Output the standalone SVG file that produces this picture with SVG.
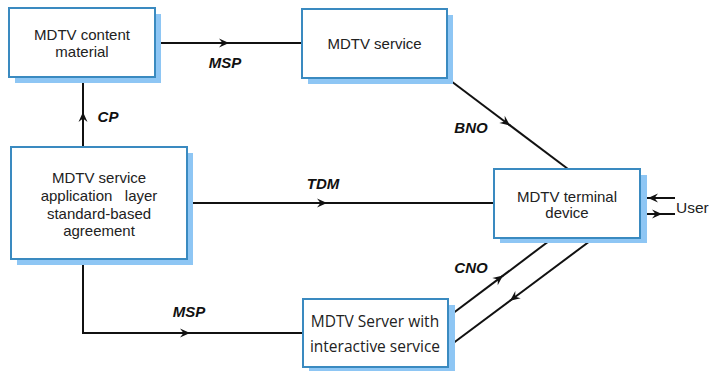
<svg xmlns="http://www.w3.org/2000/svg" width="712" height="371" viewBox="0 0 712 371">
<defs>
<style>
.sh{fill:#8ec6f4;stroke:none}
.bx{fill:#ffffff;stroke:#3a8ac0;stroke-width:2}
.t{font-family:"Liberation Sans",Arial,sans-serif;font-size:15px;fill:#222;text-anchor:middle}
.t5{font-family:"Open Sans","Noto Sans",sans-serif;font-size:15.5px;fill:#222;text-anchor:middle}
.lb{font-family:"Liberation Sans",Arial,sans-serif;font-size:15px;font-weight:bold;font-style:italic;fill:#111;text-anchor:middle}
.ln{fill:none;stroke:#111;stroke-width:2}
.ar{fill:none;stroke:#111;stroke-width:2;marker-end:url(#ah)}
</style>
<marker id="ah" viewBox="0 0 12 10" refX="11" refY="5" markerWidth="12" markerHeight="10" markerUnits="userSpaceOnUse" orient="auto">
<path d="M1,0.5 L11,5 L1,9.5 L4.5,5 Z" fill="#111"/>
</marker>
</defs>
<rect width="712" height="371" fill="#ffffff"/>

<g id="connectors">
<path class="ar" d="M155,43 H229"/><path class="ln" d="M228,43 H302"/>
<path class="ar" d="M83,147 V112"/><path class="ln" d="M83,113 V77"/>
<path class="ar" d="M447,78 L510,125.4"/><path class="ln" d="M509,124.6 L568,169"/>
<path class="ar" d="M187,203 H327"/><path class="ln" d="M326,203 H494"/>
<path class="ar" d="M83,259 V333 H190"/><path class="ln" d="M189,333 H303"/>
<path class="ar" d="M448,317 L503,275.6"/><path class="ln" d="M502,276.4 L553,238"/>
<path class="ar" d="M594,238 L510,300.7"/><path class="ln" d="M511,300 L448,347"/>
<path class="ar" d="M675,198 H648"/><path class="ln" d="M649,198 H640"/>
<path class="ar" d="M640,214 H662"/><path class="ln" d="M661,214 H675"/>
<text class="lb" x="225" y="68">MSP</text>
<text class="lb" x="108" y="122">CP</text>
<text class="lb" x="471" y="133">BNO</text>
<text class="lb" x="323" y="189">TDM</text>
<text class="lb" x="471" y="273">CNO</text>
<text class="lb" x="189" y="317">MSP</text>
<text x="676" y="213" style="font-family:'Liberation Sans',Arial,sans-serif;font-size:15.5px;fill:#222">User</text>
</g>

<g id="content-material">
<rect class="sh" x="15" y="14" width="146" height="69"/>
<rect class="bx" x="9" y="8" width="146" height="69"/>
<text class="t" x="82" y="40">MDTV content</text>
<text class="t" x="82" y="57">material</text>
</g>

<g id="service">
<rect class="sh" x="308" y="15" width="145" height="69"/>
<rect class="bx" x="302" y="9" width="145" height="69"/>
<text class="t" x="374.5" y="49">MDTV service</text>
</g>

<g id="application-layer">
<rect class="sh" x="17" y="153" width="176" height="112"/>
<rect class="bx" x="11" y="147" width="176" height="112"/>
<text class="t" x="99" y="183">MDTV service</text>
<text class="t" x="99" y="201" style="white-space:pre" xml:space="preserve">application   layer</text>
<text class="t" x="99" y="219">standard-based</text>
<text class="t" x="99" y="236">agreement</text>
</g>

<g id="terminal-device">
<rect class="sh" x="500" y="175" width="147" height="68"/>
<rect class="bx" x="494" y="169" width="146" height="69"/>
<text class="t" x="567" y="202">MDTV terminal</text>
<text class="t" x="567" y="218">device</text>
</g>

<g id="interactive-server">
<rect class="sh" x="309" y="305" width="146" height="68"/>
<rect class="bx" x="303" y="299" width="145" height="68"/>
<text class="t5" x="375" y="327">MDTV Server with</text>
<text class="t5" x="375" y="352">interactive service</text>
</g>
</svg>
